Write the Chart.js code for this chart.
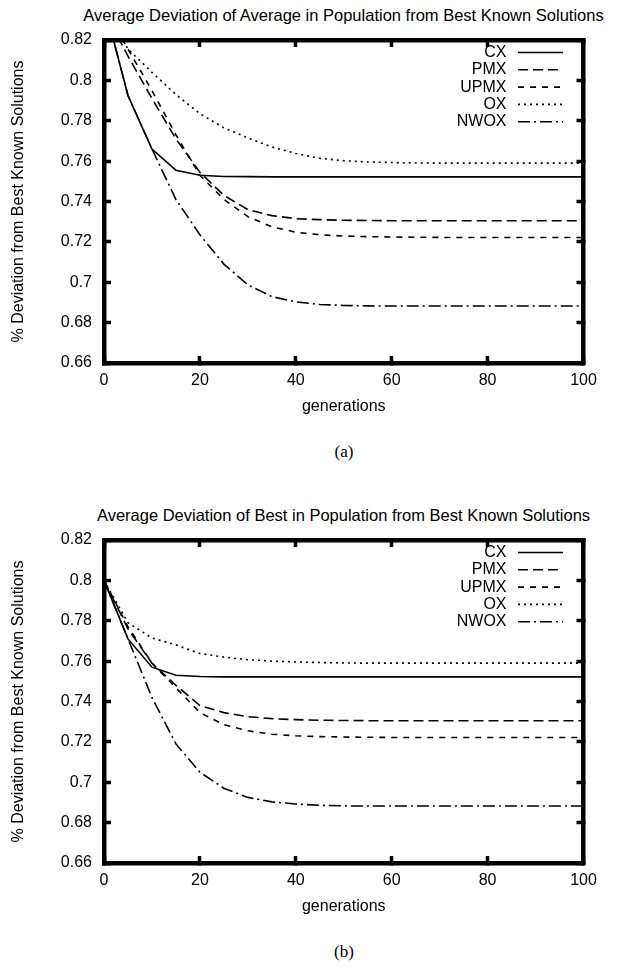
<!DOCTYPE html>
<html>
<head>
<meta charset="utf-8">
<script src="https://cdn.jsdelivr.net/npm/chart.js@4.4.1/dist/chart.umd.min.js"></script>
<style>
html,body{margin:0;padding:0;background:#fff;}
body{width:618px;height:969px;position:relative;overflow:hidden;font-family:"Liberation Sans",Arial,sans-serif;color:#000;}
.panel{position:absolute;left:0;width:618px;height:500px;}
.panel canvas{position:absolute;left:0;top:0;}
.ttl{position:absolute;left:69px;width:549px;top:5px;line-height:20px;font-size:16.5px;text-align:center;white-space:nowrap;}
.cap{position:absolute;left:294px;width:100px;top:441px;line-height:22px;font-size:17px;text-align:center;font-family:"Liberation Serif","DejaVu Serif",serif;}
</style>
</head>
<body>
<div class="panel" style="top:0px">
  <div class="ttl">Average Deviation of Average in Population from Best Known Solutions</div>
  <canvas id="c1" width="618" height="440"></canvas>
  <div class="cap">(a)</div>
</div>
<div class="panel" style="top:500px;height:469px">
  <div class="ttl">Average Deviation of Best in Population from Best Known Solutions</div>
  <canvas id="c2" width="618" height="440"></canvas>
  <div class="cap">(b)</div>
</div>
<script>
// ---- data ----
const generations = [0,5,10,15,20,25,30,35,40,45,50,55,60,65,70,75,80,85,90,95,100];
const seriesNames = ['CX','PMX','UPMX','OX','NWOX'];
const xTickValues = [0,20,40,60,80,100];
const yTickValues = [0.66,0.68,0.70,0.72,0.74,0.76,0.78,0.80,0.82];

// (a) average in population
const cxAvg   = [0.838,0.7925,0.766,0.7555,0.753,0.7524,0.7523,0.7522,0.7522,0.7522,0.7522,0.7522,0.7522,0.7522,0.7522,0.7522,0.7522,0.7522,0.7522,0.7522,0.7522];
const pmxAvg  = [0.835,0.812,0.791,0.771,0.7545,0.743,0.736,0.733,0.7315,0.731,0.7307,0.7306,0.7305,0.7305,0.7305,0.7305,0.7305,0.7305,0.7305,0.7305,0.7305];
const upmxAvg = [0.836,0.8155,0.795,0.773,0.753,0.741,0.7325,0.7275,0.7248,0.7235,0.7229,0.7226,0.7224,0.7223,0.7222,0.7222,0.7222,0.7222,0.7222,0.7222,0.7222];
const oxAvg   = [0.838,0.8155,0.804,0.793,0.7835,0.7765,0.7715,0.767,0.7638,0.7614,0.7602,0.7596,0.7593,0.7591,0.759,0.759,0.759,0.759,0.759,0.759,0.759];
const nwoxAvg = [0.838,0.7925,0.766,0.741,0.7235,0.709,0.6987,0.6929,0.6903,0.689,0.6885,0.6883,0.6882,0.6882,0.6882,0.6882,0.6882,0.6882,0.6882,0.6882,0.6882];

// (b) best in population
const cxBest   = [0.800,0.771,0.757,0.753,0.7524,0.7522,0.7522,0.7522,0.7522,0.7522,0.7522,0.7522,0.7522,0.7522,0.7522,0.7522,0.7522,0.7522,0.7522,0.7522,0.7522];
const pmxBest  = [0.800,0.776,0.759,0.748,0.738,0.7345,0.7325,0.7315,0.731,0.7307,0.7306,0.7305,0.7305,0.7305,0.7305,0.7305,0.7305,0.7305,0.7305,0.7305,0.7305];
const upmxBest = [0.800,0.777,0.759,0.7468,0.7345,0.7285,0.7255,0.7238,0.723,0.7226,0.7224,0.7223,0.7222,0.7222,0.7222,0.7222,0.7222,0.7222,0.7222,0.7222,0.7222];
const oxBest   = [0.800,0.779,0.7715,0.768,0.7638,0.762,0.7607,0.760,0.7596,0.7593,0.7591,0.759,0.759,0.759,0.759,0.759,0.759,0.759,0.759,0.759,0.759];
const nwoxBest = [0.800,0.771,0.742,0.719,0.705,0.697,0.6925,0.6903,0.6892,0.6886,0.6883,0.6882,0.6882,0.6882,0.6882,0.6882,0.6882,0.6882,0.6882,0.6882,0.6882];

// ---- styles ----
const lineDashes = [[], [10,5], [6,6], [2,4], [12,4,2,4]];
const FONT = '"Liberation Sans", Arial, sans-serif';

const frameGrid = {display: true, drawOnChartArea: false, drawTicks: true, tickLength: -7, tickWidth: 3.5, tickColor: '#000', color: '#000'};
const frameBorder = {display: true, width: 4.5, color: '#000'};

const keyPlugin = {
  id: 'keyInside',
  afterDraw(chart) {
    const ctx = chart.ctx;
    const area = chart.chartArea;
    ctx.save();
    ctx.font = '16px ' + FONT;
    ctx.fillStyle = '#000';
    ctx.textAlign = 'right';
    ctx.textBaseline = 'middle';
    chart.data.datasets.forEach((ds, i) => {
      const yy = area.top + 12.5 + i * 17.3;
      ctx.fillText(ds.label, area.right - 77, yy);
      ctx.beginPath();
      ctx.setLineDash(ds.borderDash || []);
      ctx.lineWidth = 1.6;
      ctx.strokeStyle = '#000';
      ctx.moveTo(area.right - 65.5, yy);
      ctx.lineTo(area.right - 20.5, yy);
      ctx.stroke();
    });
    ctx.restore();
  }
};

function makeChart(id, seriesList) {
  return new Chart(document.getElementById(id), {
    type: 'line',
    data: {
      datasets: seriesNames.map((name, i) => ({
        label: name,
        data: generations.map((g, j) => ({x: g, y: seriesList[i][j]})),
        borderColor: '#000',
        borderWidth: 1.6,
        borderDash: lineDashes[i],
        pointRadius: 0,
        tension: 0,
        fill: false,
        xAxisID: 'x',
        yAxisID: 'y'
      }))
    },
    options: {
      responsive: false,
      animation: false,
      events: [],
      layout: {padding: {top: 40, right: 34.5, left: 0, bottom: 17}},
      plugins: {legend: {display: false}, title: {display: false}, tooltip: {enabled: false}},
      scales: {
        x: {
          type: 'linear', position: 'bottom', min: 0, max: 100,
          afterBuildTicks: s => { s.ticks = xTickValues.map(v => ({value: v})); },
          afterFit: s => { s.height = 60; },
          grid: frameGrid,
          border: frameBorder,
          ticks: {color: '#000', font: {size: 16, family: FONT}, padding: 15, maxRotation: 0},
          title: {display: true, text: 'generations', color: '#000', font: {size: 16, family: FONT}, padding: {top: 0, bottom: 6.4}}
        },
        x2: {
          type: 'linear', position: 'top', min: 0, max: 100,
          afterBuildTicks: s => { s.ticks = xTickValues.map(v => ({value: v})); },
          afterFit: s => { s.height = 0; },
          grid: frameGrid,
          border: frameBorder,
          ticks: {display: false}
        },
        y: {
          type: 'linear', position: 'left', min: 0.66, max: 0.82,
          afterBuildTicks: s => { s.ticks = yTickValues.map(v => ({value: v})); },
          afterFit: s => { s.width = 104; },
          grid: frameGrid,
          border: frameBorder,
          ticks: {color: '#000', font: {size: 16, family: FONT}, padding: 19, callback: v => String(+(+v).toFixed(2))},
          title: {display: true, text: '% Deviation from Best Known Solutions', color: '#000', font: {size: 16, family: FONT}, padding: {top: 9.4, bottom: 0}}
        },
        y2: {
          type: 'linear', position: 'right', min: 0.66, max: 0.82,
          afterBuildTicks: s => { s.ticks = yTickValues.map(v => ({value: v})); },
          afterFit: s => { s.width = 0; },
          grid: frameGrid,
          border: frameBorder,
          ticks: {display: false}
        }
      }
    },
    plugins: [keyPlugin]
  });
}

makeChart('c1', [cxAvg, pmxAvg, upmxAvg, oxAvg, nwoxAvg]);
makeChart('c2', [cxBest, pmxBest, upmxBest, oxBest, nwoxBest]);
</script>
</body>
</html>
